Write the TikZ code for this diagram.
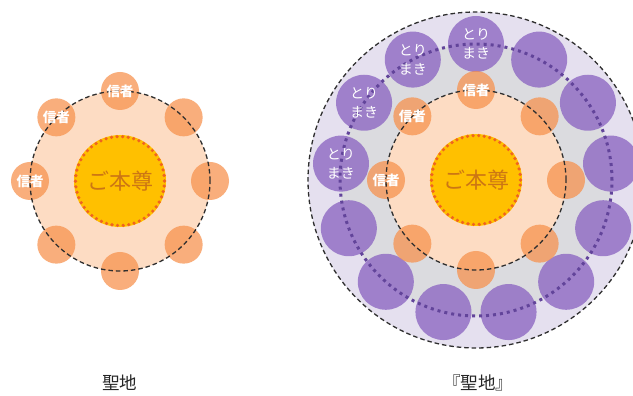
\documentclass[tikz,border=0pt]{standalone}
\usepackage{fontspec}
\usetikzlibrary{calc}
\newfontfamily\jp{Noto Sans CJK JP}
\definecolor{peach}{HTML}{FDDCC3}
\definecolor{goldc}{HTML}{FFC000}
\definecolor{dotor}{HTML}{F0641E}
\definecolor{orc}{HTML}{F7904A}
\definecolor{purc}{HTML}{8C66C2}
\definecolor{purdot}{HTML}{62449A}
\definecolor{lav}{HTML}{E5E0EF}
\definecolor{greyr}{HTML}{DBDBDF}
\definecolor{txtor}{HTML}{CC7614}
\definecolor{dashc}{HTML}{2E2E2E}
\tikzset{
  ring/.style={draw=dashc, line width=1.3pt, dash pattern=on 4.5pt off 3pt},
  core/.style={circle, minimum size=92pt, inner sep=0pt, fill=goldc},
  coredots/.style={draw=dotor, line width=3.6pt, line cap=round, dash pattern=on 0pt off 5.6pt},
  coretext/.style={text=txtor, font=\jp\fontsize{22}{22}\selectfont},
  believer/.style={circle, minimum size=38pt, inner sep=0pt, fill=orc, fill opacity=0.72},
  btext/.style={text=white, font=\jp\bfseries\fontsize{13.5}{14}\selectfont},
  follower/.style={circle, minimum size=56pt, inner sep=0pt, fill=purc, fill opacity=0.78},
  ftext/.style={text=white, align=center, font=\jp\fontsize{14}{19}\selectfont},
  purring/.style={draw=purdot, line width=3pt, dash pattern=on 3pt off 4pt},
  caption/.style={text=black!85, font=\jp\fontsize{17.5}{18}\selectfont}
}
\begin{document}
\begin{tikzpicture}[x=1pt,y=1pt]
\useasboundingbox (0,0) rectangle (633,396);
\clip (0,0) rectangle (633,396);
\fill[white] (0,0) rectangle (633,396);
% ---------- left ----------
\coordinate (LC) at (120,215);
\fill[peach] (LC) circle (90);
\foreach \i in {1,...,8} {
  \pgfmathsetmacro{\ang}{90+45*(\i-1)}
  \node[believer] (L\i) at ($(LC)+(\ang:90)$) {};
}
\draw[ring] (LC) circle (90);
\foreach \i in {1,2,3} {
  \node[btext] (LT\i) at (L\i) {信者};
}
\node[core] (LK) at (LC) {};
\draw[coredots] (LC) circle (44.5);
\node[coretext] (LKT) at (LK) {ご本尊};
% ---------- right ----------
\coordinate (RC) at (476,216);
\fill[lav] (RC) circle (168);
\fill[greyr] (RC) circle (136);
\fill[peach] (RC) circle (90);
\foreach \i in {1,...,13} {
  \pgfmathsetmacro{\ang}{90+360/13*(\i-1)}
  \node[follower] (P\i) at ($(RC)+(\ang:136)$) {};
}
\draw[purring] (RC) circle (136);
\draw[ring] (RC) circle (168);
\foreach \i in {1,...,4} {
  \node[ftext] (PT\i) at (P\i) {とり\\まき};
}
\foreach \i in {1,...,8} {
  \pgfmathsetmacro{\ang}{90+45*(\i-1)}
  \node[believer] (R\i) at ($(RC)+(\ang:90)$) {};
}
\draw[ring] (RC) circle (90);
\foreach \i in {1,2,3} {
  \node[btext] (RT\i) at (R\i) {信者};
}
\node[core] (RK) at (RC) {};
\draw[coredots] (RC) circle (44.5);
\node[coretext] (RKT) at (RK) {ご本尊};
% ---------- captions ----------
\node[caption] (T1) at (120,13) {聖地};
\node[caption] (T2) at (478,13) {『聖地』};
\end{tikzpicture}
\end{document}
